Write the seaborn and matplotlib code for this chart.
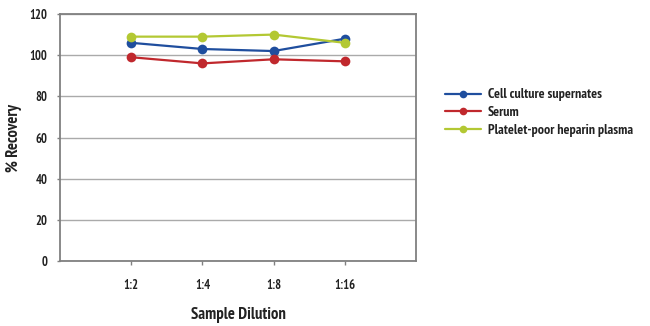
import matplotlib
matplotlib.use("Agg")
import matplotlib.pyplot as plt
import seaborn as sns
import pandas as pd

dilutions = ["1:2", "1:4", "1:8", "1:16"]
cell_culture = [106, 103, 102, 108]
serum = [99, 96, 98, 97]
platelet_plasma = [109, 109, 110, 106]
series_names = ["Cell culture supernates", "Serum", "Platelet-poor heparin plasma"]
colors = ["#1f4e9e", "#c0282d", "#b3c833"]

rows = []
for name, vals in zip(series_names, [cell_culture, serum, platelet_plasma]):
    for i, (d, v) in enumerate(zip(dilutions, vals)):
        rows.append({"Series": name, "Dilution": d, "pos": i, "Recovery": v})
df = pd.DataFrame(rows)

sns.set_style("white")
plt.rcParams["font.family"] = ["PT Sans Narrow", "DejaVu Sans"]
plt.rcParams["font.weight"] = "bold"
txt_color = "#222222"

fig = plt.figure(figsize=(6.5, 3.26), dpi=100)
ax = fig.add_axes([60/650, 1-261/326, (416-60)/650, (261-14)/326])

sns.lineplot(data=df, x="pos", y="Recovery", hue="Series", hue_order=series_names,
             palette=colors, marker="o", markersize=7, markeredgewidth=0,
             linewidth=1.6, ax=ax, legend=True)

ax.set_xlim(-1, 4)
ax.set_ylim(0, 120)
ax.set_yticks(range(0, 121, 20))
ax.set_xticks(range(len(dilutions)))
ax.set_xticklabels(dilutions)
ax.yaxis.grid(True, color="#aaaaaa", linewidth=1)
ax.set_axisbelow(True)
for s in ax.spines.values():
    s.set_color("#808080")
    s.set_linewidth(1.3)
ax.tick_params(axis="both", labelsize=9, colors=txt_color, width=1, color="#808080")
ax.tick_params(axis="y", left=True, length=2, pad=7)
ax.tick_params(axis="x", bottom=True, length=3, pad=10)
for lbl in ax.get_xticklabels() + ax.get_yticklabels():
    lbl.set_fontweight("bold")
ax.set_xlabel("Sample Dilution", fontsize=12, fontweight="bold", labelpad=11, color=txt_color)
ax.set_ylabel("% Recovery", fontsize=12, fontweight="bold", color=txt_color)
ax.yaxis.set_label_coords(-38/356, 0.5)

leg = ax.legend(loc="center left", bbox_to_anchor=(1.047, 0.6), frameon=False,
                fontsize=10, handlelength=2.6, handletextpad=0.45, labelspacing=0.35)
for t in leg.get_texts():
    t.set_fontweight("bold")
    t.set_color(txt_color)
for h in leg.legend_handles:
    h.set_markersize(5.5)
    h.set_linewidth(1.6)

fig.savefig("out.png", dpi=100)
